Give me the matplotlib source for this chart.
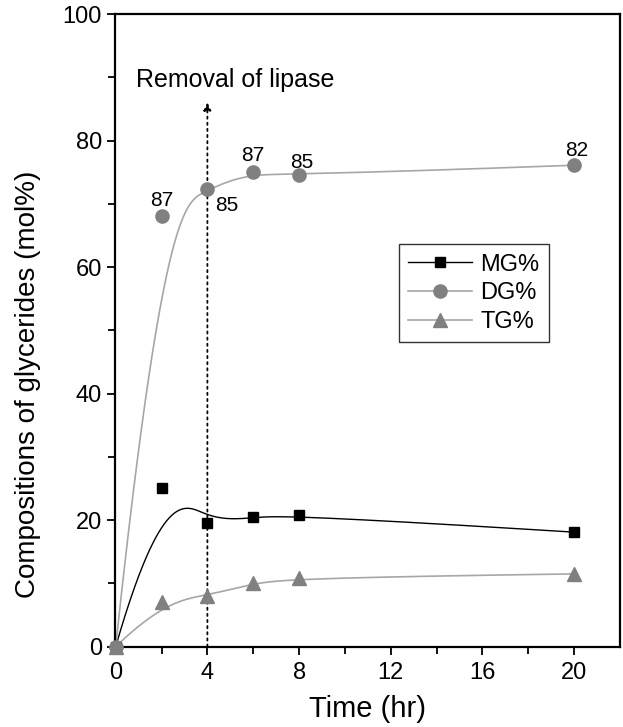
import numpy as np
import matplotlib
matplotlib.use('Agg')
import matplotlib.pyplot as plt

plt.rcParams['font.family'] = ['Liberation Sans', 'DejaVu Sans']

# reaction time (hr) and glyceride composition (mol%)
time_hr = [0, 2, 4, 6, 8, 20]
mg = [0, 25.1, 19.6, 20.5, 20.8, 18.1]
dg = [0, 68.1, 72.4, 75.1, 74.5, 76.1]
tg = [0, 7.0, 8.0, 10.1, 10.9, 11.5]

# numbers written next to the DG points
dg_note_text = ['87', '85', '87', '85', '82']
dg_note_x = [2.0, 4.85, 6.0, 8.1, 20.1]
dg_note_y = [70.6, 69.7, 77.6, 76.5, 78.4]

removal_time = 4


def bspline(xs, ys, k=3, n=400):
    # clamped uniform B-spline using the points as control points
    P = np.column_stack([xs, ys]).astype(float)
    m = len(P)
    t = np.concatenate([np.zeros(k), np.linspace(0, 1, m - k + 1), np.ones(k)])
    u = np.linspace(0, 1 - 1e-9, n)

    def N(i, p):
        if p == 0:
            return ((t[i] <= u) & (u < t[i + 1])).astype(float)
        out = np.zeros_like(u)
        d1 = t[i + p] - t[i]
        d2 = t[i + p + 1] - t[i + 1]
        if d1 > 0:
            out += (u - t[i]) / d1 * N(i, p - 1)
        if d2 > 0:
            out += (t[i + p + 1] - u) / d2 * N(i + 1, p - 1)
        return out

    B = np.array([N(i, k) for i in range(m)])
    C = B.T @ P
    C = np.vstack([C, P[-1]])
    return C[:, 0], C[:, 1]


fig = plt.figure(figsize=(6.23, 7.27), dpi=100)
ax = fig.add_axes([0.1846, 0.1105, 0.8106, 0.8702])

gray_mk = '#808080'
gray_ln = '#a6a6a6'

sx, sy = bspline(time_hr, mg)
ax.plot(sx, sy, color='black', lw=1.0, zorder=2)
sx, sy = bspline(time_hr, dg)
ax.plot(sx, sy, color=gray_ln, lw=1.2, zorder=2)
sx, sy = bspline(time_hr, tg)
ax.plot(sx, sy, color=gray_ln, lw=1.2, zorder=2)

ax.plot(time_hr, mg, 's', color='black', ms=7.5, clip_on=False, zorder=4)
ax.plot(time_hr, dg, 'o', color=gray_mk, ms=9.5, clip_on=False, zorder=4)
ax.plot(time_hr, tg, '^', color=gray_mk, ms=10, clip_on=False, zorder=4)

# legend entries: line + marker
h1, = ax.plot([], [], '-s', color='black', lw=1.0, ms=7.5)
h2, = ax.plot([], [], '-o', color=gray_ln, mfc=gray_mk, mec=gray_mk, lw=1.2, ms=9.5)
h3, = ax.plot([], [], '-^', color=gray_ln, mfc=gray_mk, mec=gray_mk, lw=1.2, ms=10)
leg = ax.legend([h1, h2, h3], ['MG%', 'DG%', 'TG%'], loc='upper left',
                bbox_to_anchor=(0.562, 0.636), fontsize=17, frameon=True,
                fancybox=False, edgecolor='black', handlelength=2.7,
                handletextpad=0.35, labelspacing=0.28, borderpad=0.4,
                borderaxespad=0)
leg.get_frame().set_linewidth(1.0)

for s, x, y in zip(dg_note_text, dg_note_x, dg_note_y):
    ax.text(x, y, s, fontsize=15, ha='center', va='center')

# dotted arrow marking when the enzyme was taken out
ax.annotate('', xy=(removal_time, 86), xytext=(removal_time, 0),
            arrowprops=dict(arrowstyle='-|>', linestyle=(0, (1.2, 2.2)),
                            color='black', lw=1.3, mutation_scale=11,
                            shrinkA=0, shrinkB=0))
ax.text(0.9, 89.5, 'Removal of lipase', fontsize=18, ha='left', va='center')

ax.set_xlim(-0.03, 22)
ax.set_ylim(0, 100)
ax.set_xticks([0, 4, 8, 12, 16, 20])
ax.set_xticks([2, 6, 10, 14, 18], minor=True)
ax.set_yticks([0, 20, 40, 60, 80, 100])
ax.set_yticks([10, 30, 50, 70, 90], minor=True)
ax.tick_params(which='both', direction='out', width=1.3, labelsize=17)
ax.tick_params(which='major', length=6)
ax.tick_params(which='minor', length=5)
ax.tick_params(axis='x', pad=5)
for sp in ax.spines.values():
    sp.set_linewidth(1.6)

ax.set_xlabel('Time (hr)', fontsize=21)
ax.set_ylabel('Compositions of glycerides (mol%)', fontsize=20)
ax.yaxis.set_label_coords(-0.146, 0.414)
ax.xaxis.set_label_coords(0.5, -0.077)

fig.savefig('out.png', dpi=100)
